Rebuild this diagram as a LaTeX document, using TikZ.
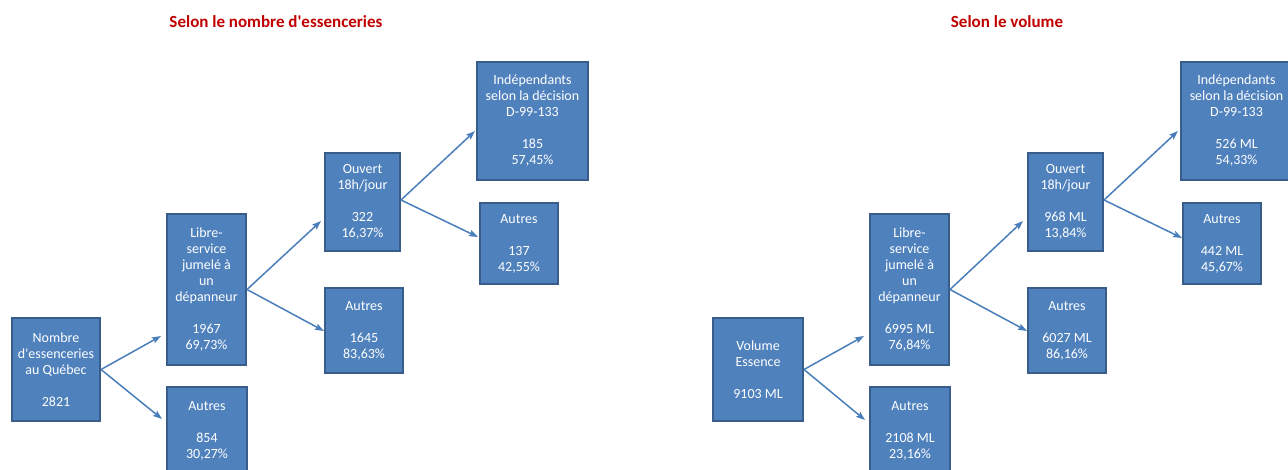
\documentclass[tikz,border=0pt]{standalone}
\usepackage{fontspec}
\setmainfont{Carlito}[Ligatures=TeXOff]
\usetikzlibrary{arrows.meta}
\definecolor{boxfill}{HTML}{4F81BD}
\definecolor{boxborder}{HTML}{385D8A}
\definecolor{arrowblue}{HTML}{4A7EBB}
\definecolor{titlered}{HTML}{C00000}
\tikzset{
  box/.style={draw=boxborder, fill=boxfill, line width=2pt, text=white,
    font=\fontsize{14}{16}\selectfont, align=center, inner sep=0pt},
  conn/.style={draw=arrowblue, line width=1.5pt, -{Stealth[length=9pt,width=6.5pt,inset=1.5pt]}},
  ttl/.style={text=titlered, font=\fontsize{17}{19}\selectfont\bfseries, inner sep=0pt}
}
\newcommand{\bxnode}[6]{%
  \node[box, minimum width=#4pt, minimum height=#5pt] (#1) at (#2,#3) {#6};}
\begin{document}
\begin{tikzpicture}[x=1pt,y=-1pt]
\useasboundingbox (0,0) rectangle (1288,469);
\clip (0,0) rectangle (1288,469);
% titles
\node[ttl] (t1) at (276,22) {Selon le nombre d'essenceries};
\node[ttl] (t2) at (1007,22) {Selon le volume};
% left panel
\bxnode{nomL}{56}{369.5}{88}{103}{Nombre\\d'essenceries\\au Québec\\[16pt]2821}
\bxnode{libL}{206.5}{289.5}{79}{151}{Libre-\\service\\jumelé à\\un\\dépanneur\\[16pt]1967\\69,73\%}
\bxnode{autLa}{207}{430.5}{80}{87}{Autres\\[16pt]854\\30,27\%}
\bxnode{ouvL}{362.5}{202}{75}{98}{Ouvert\\18h/jour\\[16pt]322\\16,37\%}
\bxnode{autLb}{364}{330.5}{78}{85}{Autres\\[16pt]1645\\83,63\%}
\bxnode{indL}{532.5}{121}{111}{118}{Indépendants\\selon la décision\\D-99-133\\[16pt]185\\57,45\%}
\bxnode{autLc}{519}{243.5}{78}{81}{Autres\\[16pt]137\\42,55\%}
% right panel
\bxnode{nomR}{758}{369.5}{90}{103}{Volume\\Essence\\[16pt]9103 ML}
\bxnode{libR}{909.5}{289.5}{79}{151}{Libre-\\service\\jumelé à\\un\\dépanneur\\[16pt]6995 ML\\76,84\%}
\bxnode{autRa}{910}{430.5}{80}{87}{Autres\\[16pt]2108 ML\\23,16\%}
\bxnode{ouvR}{1065.5}{202}{75}{98}{Ouvert\\18h/jour\\[16pt]968 ML\\13,84\%}
\bxnode{autRb}{1067}{330.5}{78}{85}{Autres\\[16pt]6027 ML\\86,16\%}
\bxnode{indR}{1236.5}{121}{111}{118}{Indépendants\\selon la décision\\D-99-133\\[16pt]526 ML\\54,33\%}
\bxnode{autRc}{1222}{243.5}{78}{81}{Autres\\[16pt]442 ML\\45,67\%}
% arrow end points
\coordinate (eLa) at (161,336);
\coordinate (eLb) at (162,419);
\coordinate (eLc) at (321,221);
\coordinate (eLd) at (324,331);
\coordinate (eLe) at (475,131);
\coordinate (eLf) at (478,237);
\coordinate (eRa) at (864,336);
\coordinate (eRb) at (865,420);
\coordinate (eRc) at (1023,221);
\coordinate (eRd) at (1027,331);
\coordinate (eRe) at (1178,131);
\coordinate (eRf) at (1182,238);
% connectors
\draw[conn] (nomL.east) -- (eLa);
\draw[conn] (nomL.east) -- (eLb);
\draw[conn] (libL.east) -- (eLc);
\draw[conn] (libL.east) -- (eLd);
\draw[conn] ([yshift=2pt]ouvL.east) -- (eLe);
\draw[conn] ([yshift=2pt]ouvL.east) -- (eLf);
\draw[conn] (nomR.east) -- (eRa);
\draw[conn] (nomR.east) -- (eRb);
\draw[conn] (libR.east) -- (eRc);
\draw[conn] (libR.east) -- (eRd);
\draw[conn] ([yshift=2pt]ouvR.east) -- (eRe);
\draw[conn] ([yshift=2pt]ouvR.east) -- (eRf);
\end{tikzpicture}
\end{document}
